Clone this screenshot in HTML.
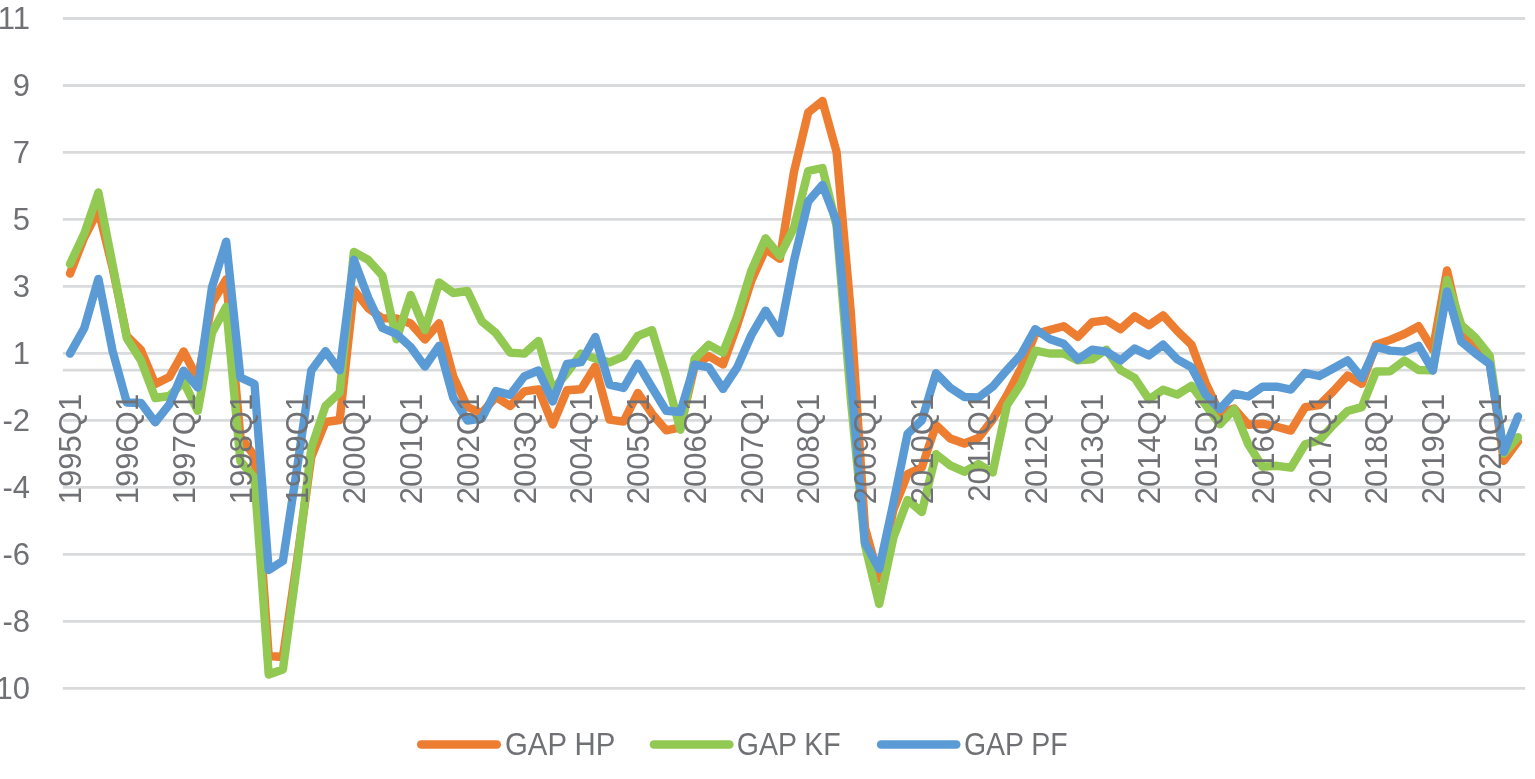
<!DOCTYPE html><html><head><meta charset="utf-8"><style>html,body{margin:0;padding:0;background:#fff;}body{width:1535px;height:779px;overflow:hidden;}svg{display:block;}text{font-family:"Liberation Sans",Arial,sans-serif;fill:#707175;}</style></head><body>
<svg width="1535" height="779" viewBox="0 0 1535 779">
<rect width="1535" height="779" fill="#fff"/>
<path d="M62.9 18.50H1525.1M62.9 85.48H1525.1M62.9 152.46H1525.1M62.9 219.44H1525.1M62.9 286.42H1525.1M62.9 353.40H1525.1M62.9 420.38H1525.1M62.9 487.36H1525.1M62.9 554.34H1525.1M62.9 621.32H1525.1M62.9 688.30H1525.1M62.9 370.20H1525.1" stroke="#d9dadc" stroke-width="2.8" fill="none"/>
<path d="M70.0 273.6 L84.2 237.5 L98.4 210.0 L112.6 268.0 L126.8 336.0 L141.0 350.0 L155.2 384.0 L169.4 377.0 L183.6 351.5 L197.8 379.0 L212.0 303.0 L226.2 279.4 L240.4 437.0 L254.5 456.0 L268.7 656.0 L282.9 657.0 L297.1 560.0 L311.3 457.0 L325.5 422.0 L339.7 420.0 L353.9 290.0 L368.1 308.0 L382.3 318.4 L396.5 318.4 L410.7 323.5 L424.9 339.5 L439.1 323.3 L453.3 376.5 L467.5 407.0 L481.7 413.0 L495.9 397.0 L510.1 406.0 L524.3 391.3 L538.5 389.3 L552.7 424.5 L566.9 390.3 L581.1 389.3 L595.3 366.5 L609.5 419.6 L623.6 421.6 L637.8 393.0 L652.0 413.7 L666.2 430.4 L680.4 427.4 L694.6 366.0 L708.8 356.0 L723.0 364.5 L737.2 325.0 L751.4 280.4 L765.6 249.0 L779.8 258.9 L794.0 171.8 L808.2 112.4 L822.4 100.9 L836.6 152.0 L850.8 312.0 L865.0 528.0 L879.2 579.0 L893.4 510.0 L907.6 474.0 L921.8 467.5 L936.0 425.0 L950.2 438.5 L964.4 443.5 L978.5 438.0 L992.7 419.4 L1006.9 395.5 L1021.1 368.2 L1035.3 334.0 L1049.5 330.0 L1063.7 326.2 L1077.9 336.9 L1092.1 322.2 L1106.3 320.3 L1120.5 329.1 L1134.7 316.4 L1148.9 325.2 L1163.1 315.4 L1177.3 331.0 L1191.5 344.7 L1205.7 383.0 L1219.9 413.5 L1234.1 408.5 L1248.3 424.7 L1262.5 423.7 L1276.7 426.7 L1290.9 430.6 L1305.1 407.1 L1319.3 405.2 L1333.5 391.0 L1347.6 375.5 L1361.8 383.8 L1376.0 344.8 L1390.2 339.9 L1404.4 334.0 L1418.6 326.2 L1432.8 349.7 L1447.0 270.5 L1461.2 332.0 L1475.4 345.8 L1489.6 360.0 L1503.8 460.8 L1518.0 441.6" stroke="#ED7D31" stroke-width="8.4" fill="none" stroke-linejoin="round" stroke-linecap="round"/>
<path d="M70.0 264.0 L84.2 233.8 L98.4 192.5 L112.6 264.8 L126.8 338.2 L141.0 360.5 L155.2 398.0 L169.4 396.0 L183.6 381.7 L197.8 410.8 L212.0 332.8 L226.2 306.7 L240.4 461.0 L254.5 478.0 L268.7 674.5 L282.9 669.5 L297.1 565.0 L311.3 448.0 L325.5 406.0 L339.7 392.5 L353.9 252.0 L368.1 259.8 L382.3 275.5 L396.5 339.3 L410.7 295.0 L424.9 330.0 L439.1 282.5 L453.3 293.0 L467.5 291.0 L481.7 321.3 L495.9 333.0 L510.1 352.6 L524.3 353.6 L538.5 340.9 L552.7 390.0 L566.9 373.0 L581.1 353.6 L595.3 358.5 L609.5 362.4 L623.6 356.5 L637.8 336.0 L652.0 330.1 L666.2 377.0 L680.4 429.7 L694.6 359.0 L708.8 344.8 L723.0 352.7 L737.2 316.5 L751.4 270.6 L765.6 238.3 L779.8 255.9 L794.0 227.6 L808.2 171.0 L822.4 168.0 L836.6 226.0 L850.8 399.0 L865.0 545.0 L879.2 604.0 L893.4 537.5 L907.6 499.9 L921.8 512.0 L936.0 454.2 L950.2 465.4 L964.4 471.7 L978.5 464.0 L992.7 472.5 L1006.9 405.3 L1021.1 383.8 L1035.3 350.6 L1049.5 353.5 L1063.7 353.5 L1077.9 360.4 L1092.1 359.4 L1106.3 349.6 L1120.5 370.1 L1134.7 378.0 L1148.9 399.4 L1163.1 389.7 L1177.3 394.6 L1191.5 385.8 L1205.7 405.0 L1219.9 424.3 L1234.1 409.2 L1248.3 444.3 L1262.5 466.7 L1276.7 465.8 L1290.9 467.7 L1305.1 444.3 L1319.3 440.4 L1333.5 424.7 L1347.6 411.0 L1361.8 407.1 L1376.0 371.5 L1390.2 371.2 L1404.4 360.5 L1418.6 370.0 L1432.8 370.2 L1447.0 280.0 L1461.2 324.8 L1475.4 337.6 L1489.6 355.5 L1503.8 453.4 L1518.0 437.1" stroke="#92C953" stroke-width="8.4" fill="none" stroke-linejoin="round" stroke-linecap="round"/>
<path d="M70.0 353.6 L84.2 328.3 L98.4 278.9 L112.6 351.0 L126.8 402.5 L141.0 403.0 L155.2 422.3 L169.4 404.4 L183.6 370.6 L197.8 387.5 L212.0 287.2 L226.2 241.6 L240.4 377.5 L254.5 384.0 L268.7 570.0 L282.9 561.0 L297.1 468.0 L311.3 370.4 L325.5 351.2 L339.7 370.4 L353.9 259.8 L368.1 297.6 L382.3 328.0 L396.5 334.0 L410.7 347.0 L424.9 366.5 L439.1 345.8 L453.3 397.8 L467.5 420.6 L481.7 418.6 L495.9 391.0 L510.1 395.0 L524.3 376.3 L538.5 370.5 L552.7 401.5 L566.9 364.0 L581.1 362.2 L595.3 337.0 L609.5 384.6 L623.6 388.0 L637.8 363.6 L652.0 387.5 L666.2 410.8 L680.4 412.0 L694.6 364.7 L708.8 367.4 L723.0 388.9 L737.2 367.4 L751.4 335.0 L765.6 310.6 L779.8 333.1 L794.0 260.8 L808.2 201.5 L822.4 185.0 L836.6 221.5 L850.8 377.0 L865.0 543.0 L879.2 569.0 L893.4 503.0 L907.6 433.7 L921.8 420.4 L936.0 373.2 L950.2 387.8 L964.4 397.0 L978.5 397.5 L992.7 386.7 L1006.9 370.1 L1021.1 354.5 L1035.3 329.1 L1049.5 338.9 L1063.7 343.7 L1077.9 359.4 L1092.1 349.6 L1106.3 351.6 L1120.5 360.4 L1134.7 348.6 L1148.9 355.5 L1163.1 344.7 L1177.3 359.4 L1191.5 367.2 L1205.7 394.6 L1219.9 409.2 L1234.1 393.6 L1248.3 396.5 L1262.5 386.7 L1276.7 386.7 L1290.9 389.6 L1305.1 373.0 L1319.3 376.0 L1333.5 368.2 L1347.6 360.4 L1361.8 378.0 L1376.0 346.7 L1390.2 350.6 L1404.4 351.6 L1418.6 345.8 L1432.8 370.5 L1447.0 291.5 L1461.2 341.5 L1475.4 353.3 L1489.6 364.0 L1503.8 451.9 L1518.0 416.5" stroke="#5B9BD5" stroke-width="8.4" fill="none" stroke-linejoin="round" stroke-linecap="round"/>
<text x="30" y="28.8" font-size="31" text-anchor="end">11</text>
<text x="30" y="95.8" font-size="31" text-anchor="end">9</text>
<text x="30" y="162.8" font-size="31" text-anchor="end">7</text>
<text x="30" y="229.7" font-size="31" text-anchor="end">5</text>
<text x="30" y="296.7" font-size="31" text-anchor="end">3</text>
<text x="30" y="363.7" font-size="31" text-anchor="end">1</text>
<text x="30" y="430.7" font-size="31" text-anchor="end">-2</text>
<text x="30" y="497.7" font-size="31" text-anchor="end">-4</text>
<text x="30" y="564.6" font-size="31" text-anchor="end">-6</text>
<text x="30" y="631.6" font-size="31" text-anchor="end">-8</text>
<text x="30" y="698.6" font-size="31" text-anchor="end">-10</text>
<text transform="translate(70.0 393.8) rotate(-90)" font-size="31" text-anchor="end" x="0" y="11.2">1995Q1</text>
<text transform="translate(126.8 393.8) rotate(-90)" font-size="31" text-anchor="end" x="0" y="11.2">1996Q1</text>
<text transform="translate(183.6 393.8) rotate(-90)" font-size="31" text-anchor="end" x="0" y="11.2">1997Q1</text>
<text transform="translate(240.4 393.8) rotate(-90)" font-size="31" text-anchor="end" x="0" y="11.2">1998Q1</text>
<text transform="translate(297.1 393.8) rotate(-90)" font-size="31" text-anchor="end" x="0" y="11.2">1999Q1</text>
<text transform="translate(353.9 393.8) rotate(-90)" font-size="31" text-anchor="end" x="0" y="11.2">2000Q1</text>
<text transform="translate(410.7 393.8) rotate(-90)" font-size="31" text-anchor="end" x="0" y="11.2">2001Q1</text>
<text transform="translate(467.5 393.8) rotate(-90)" font-size="31" text-anchor="end" x="0" y="11.2">2002Q1</text>
<text transform="translate(524.3 393.8) rotate(-90)" font-size="31" text-anchor="end" x="0" y="11.2">2003Q1</text>
<text transform="translate(581.1 393.8) rotate(-90)" font-size="31" text-anchor="end" x="0" y="11.2">2004Q1</text>
<text transform="translate(637.8 393.8) rotate(-90)" font-size="31" text-anchor="end" x="0" y="11.2">2005Q1</text>
<text transform="translate(694.6 393.8) rotate(-90)" font-size="31" text-anchor="end" x="0" y="11.2">2006Q1</text>
<text transform="translate(751.4 393.8) rotate(-90)" font-size="31" text-anchor="end" x="0" y="11.2">2007Q1</text>
<text transform="translate(808.2 393.8) rotate(-90)" font-size="31" text-anchor="end" x="0" y="11.2">2008Q1</text>
<text transform="translate(865.0 393.8) rotate(-90)" font-size="31" text-anchor="end" x="0" y="11.2">2009Q1</text>
<text transform="translate(921.8 393.8) rotate(-90)" font-size="31" text-anchor="end" x="0" y="11.2">2010Q1</text>
<text transform="translate(978.5 393.8) rotate(-90)" font-size="31" text-anchor="end" x="0" y="11.2">2011Q1</text>
<text transform="translate(1035.3 393.8) rotate(-90)" font-size="31" text-anchor="end" x="0" y="11.2">2012Q1</text>
<text transform="translate(1092.1 393.8) rotate(-90)" font-size="31" text-anchor="end" x="0" y="11.2">2013Q1</text>
<text transform="translate(1148.9 393.8) rotate(-90)" font-size="31" text-anchor="end" x="0" y="11.2">2014Q1</text>
<text transform="translate(1205.7 393.8) rotate(-90)" font-size="31" text-anchor="end" x="0" y="11.2">2015Q1</text>
<text transform="translate(1262.5 393.8) rotate(-90)" font-size="31" text-anchor="end" x="0" y="11.2">2016Q1</text>
<text transform="translate(1319.3 393.8) rotate(-90)" font-size="31" text-anchor="end" x="0" y="11.2">2017Q1</text>
<text transform="translate(1376.0 393.8) rotate(-90)" font-size="31" text-anchor="end" x="0" y="11.2">2018Q1</text>
<text transform="translate(1432.8 393.8) rotate(-90)" font-size="31" text-anchor="end" x="0" y="11.2">2019Q1</text>
<text transform="translate(1489.6 393.8) rotate(-90)" font-size="31" text-anchor="end" x="0" y="11.2">2020Q1</text>
<path d="M421.2 744.4H496.8" stroke="#ED7D31" stroke-width="8.5" stroke-linecap="round"/>
<text transform="translate(505.0 754.9) scale(0.947 1)" x="0" y="0" font-size="31">GAP HP</text>
<path d="M653.9 744.4H729.4" stroke="#92C953" stroke-width="8.5" stroke-linecap="round"/>
<text transform="translate(736.8 754.9) scale(0.919 1)" x="0" y="0" font-size="31">GAP KF</text>
<path d="M881.1 744.4H956.3" stroke="#5B9BD5" stroke-width="8.5" stroke-linecap="round"/>
<text transform="translate(963.9 754.9) scale(0.917 1)" x="0" y="0" font-size="31">GAP PF</text>
</svg></body></html>
